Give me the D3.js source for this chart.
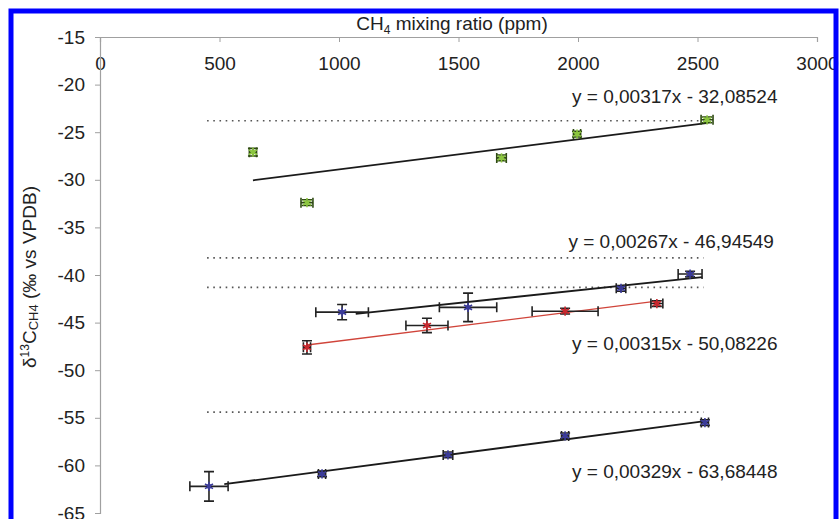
<!DOCTYPE html>
<html><head><meta charset="utf-8">
<script src="https://cdn.jsdelivr.net/npm/d3@7"></script>
<style>
html,body{margin:0;padding:0;background:#fff;}
svg{display:block;font-family:"Liberation Sans",Arial,sans-serif;}
</style></head>
<body>
<svg id="chart" width="839" height="519"></svg>
<script>
// ---- data ----
const xTicks = [0, 500, 1000, 1500, 2000, 2500, 3000];
const yTicks = [-15, -20, -25, -30, -35, -40, -45, -50, -55, -60, -65];

// series: [x, y, xErr, yErr]
const greenPts = [[640,-27.1,15,0.4],[866,-32.4,25,0.3],[1680,-27.7,20,0.3],[1996,-25.2,15,0.3],[2540,-23.7,25,0.3]];
const bluePts  = [[1013,-43.9,110,0.8],[1540,-43.4,120,1.5],[2180,-41.4,20,0.3],[2469,-39.9,50,0.3]];
const redPts   = [[866,-47.6,15,0.7],[1368,-45.3,88,0.75],[1946,-43.8,138,0.3],[2330,-43.0,25,0.3]];
const lowPts   = [[456,-62.2,80,1.55],[929,-60.9,15,0.3],[1456,-58.9,20,0.3],[1946,-56.9,15,0.3],[2531,-55.5,15,0.3]];

// fits: slope, intercept, x range
const fitSlopes = [0.00317, 0.00267, 0.00315, 0.00329];
const fitIntercepts = [-32.08524, -46.94549, -50.08226, -63.68448];
const fitRanges = [[640,2545],[1070,2520],[866,2330],[520,2531]];
const fitLabels = ["y = 0,00317x - 32,08524","y = 0,00267x - 46,94549","y = 0,00315x - 50,08226","y = 0,00329x - 63,68448"];
const labelPos = [[1975,-21.4],[1960,-36.6],[1975,-47.4],[1975,-60.8]];

const refLevels = [-23.8, -38.2, -41.3, -54.4];
const refRange = [448, 2525];

// ---- drawing ----
const svg = d3.select("#chart");
const x = d3.scaleLinear().domain([0,3000]).range([100,817]);
const y = d3.scaleLinear().domain([-15,-65]).range([37,513]);
const fmt = d => String(d); // hyphen-minus like the reference

svg.append("rect").attr("x",0).attr("y",0).attr("width",839).attr("height",519).attr("fill","#fff");

// axes
const xAxis = svg.append("g").attr("transform","translate(0,37)")
  .call(d3.axisTop(x).tickValues(xTicks).tickSize(-5).tickFormat(fmt));
xAxis.selectAll("text").attr("font-size",19).attr("fill","#222").attr("dy","0").attr("y",33);
const yAxis = svg.append("g").attr("transform","translate(100,0)")
  .call(d3.axisLeft(y).tickValues(yTicks).tickSize(5).tickPadding(10).tickFormat(fmt));
yAxis.selectAll("text").attr("font-size",19).attr("fill","#222");
svg.selectAll(".domain").attr("stroke","#a0a0a0").attr("stroke-width",1.2);
svg.selectAll(".tick line").attr("stroke","#a0a0a0");

// titles
const t = svg.append("text").attr("x",452).attr("y",30).attr("text-anchor","middle")
  .attr("font-size",19).attr("fill","#222");
t.append("tspan").text("CH");
t.append("tspan").text("4").attr("font-size",12).attr("dy",4);
t.append("tspan").text(" mixing ratio (ppm)").attr("dy",-4);

const yl = svg.append("text").attr("transform","translate(36,277) rotate(-90)")
  .attr("text-anchor","middle").attr("font-size",19).attr("fill","#222");
yl.append("tspan").text("δ");
yl.append("tspan").text("13").attr("font-size",12).attr("dy",-7);
yl.append("tspan").text("C").attr("dy",7);
yl.append("tspan").text("CH4").attr("font-size",13).attr("dy",2);
yl.append("tspan").text(" (‰ vs VPDB)").attr("dy",-2);

// dotted reference lines
svg.append("g").selectAll("line").data(refLevels).join("line")
  .attr("x1",x(refRange[0])).attr("x2",x(refRange[1]))
  .attr("y1",d=>y(d)).attr("y2",d=>y(d))
  .attr("stroke","#555").attr("stroke-width",1.6).attr("stroke-dasharray","1.6,4.6");

// fit lines
const fitColors = ["#1a1a1a","#1a1a1a","#d0443a","#1a1a1a"];
const fitWidths = [1.8,1.8,1.3,1.8];
fitSlopes.forEach((m,i)=>{
  const [a,b] = fitRanges[i];
  svg.append("line").attr("x1",x(a)).attr("x2",x(b))
    .attr("y1",y(m*a+fitIntercepts[i])).attr("y2",y(m*b+fitIntercepts[i]))
    .attr("stroke",fitColors[i]).attr("stroke-width",fitWidths[i]);
  svg.append("text").attr("x",x(labelPos[i][0])).attr("y",y(labelPos[i][1]))
    .attr("dominant-baseline","middle").attr("font-size",19).attr("fill","#222").text(fitLabels[i]);
});

// points with error bars
function drawSeries(pts, fill, barColor){
  const g = svg.append("g");
  const cap = 5;
  pts.forEach(([px,py,ex,ey])=>{
    const cx=x(px), cy=y(py);
    const l=x(px-ex), r=x(px+ex), tp=y(py+ey), bt=y(py-ey);
    g.append("path").attr("d",
      `M${l},${cy}H${r}M${l},${cy-cap}V${cy+cap}M${r},${cy-cap}V${cy+cap}`+
      `M${cx},${tp}V${bt}M${cx-cap},${tp}H${cx+cap}M${cx-cap},${bt}H${cx+cap}`)
      .attr("stroke",barColor).attr("stroke-width",1.6).attr("fill","none");
    g.append("path").attr("transform",`translate(${cx},${cy})`)
      .attr("d",d3.symbol(d3.symbolSquare,18)()).attr("fill",fill).attr("opacity",0.9);
    g.append("path").attr("transform",`translate(${cx},${cy})`)
      .attr("d",d3.symbol(d3.symbolAsterisk,60)()).attr("stroke",fill).attr("stroke-width",1.6).attr("fill","none");
  });
}
drawSeries(greenPts, "#8cc63f", "#2e4a12");
drawSeries(bluePts, "#3b3b9a", "#222");
drawSeries(redPts, "#c8282e", "#222");
drawSeries(lowPts, "#3b3b9a", "#222");

// blue frame
svg.append("rect").attr("x",11).attr("y",11).attr("width",825).attr("height",530)
  .attr("fill","none").attr("stroke","#0000ff").attr("stroke-width",5);
</script>
</body></html>
